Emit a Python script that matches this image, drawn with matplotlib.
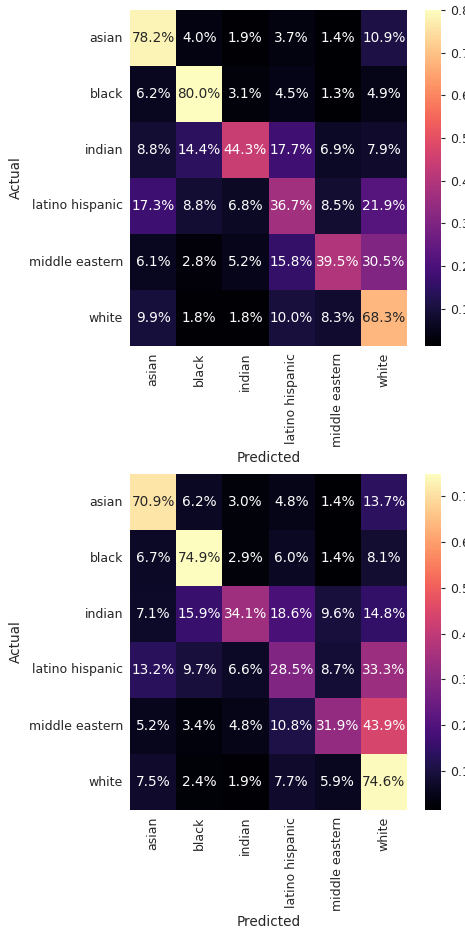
import numpy as np
import matplotlib
matplotlib.use("Agg")
import matplotlib.pyplot as plt
import seaborn as sns

labels = ["asian", "black", "indian", "latino hispanic", "middle eastern", "white"]

# valeurs normalisées par ligne (modèle 1)
cm_top = np.array([
    [0.782, 0.040, 0.019, 0.037, 0.014, 0.109],
    [0.062, 0.800, 0.031, 0.045, 0.013, 0.049],
    [0.088, 0.144, 0.443, 0.177, 0.069, 0.079],
    [0.173, 0.088, 0.068, 0.367, 0.085, 0.219],
    [0.061, 0.028, 0.052, 0.158, 0.395, 0.305],
    [0.099, 0.018, 0.018, 0.100, 0.083, 0.683],
])

# modèle 2
cm_bottom = np.array([
    [0.709, 0.062, 0.030, 0.048, 0.014, 0.137],
    [0.067, 0.749, 0.029, 0.060, 0.014, 0.081],
    [0.071, 0.159, 0.341, 0.186, 0.096, 0.148],
    [0.132, 0.097, 0.066, 0.285, 0.087, 0.333],
    [0.052, 0.034, 0.048, 0.108, 0.319, 0.439],
    [0.075, 0.024, 0.019, 0.077, 0.059, 0.746],
])

sns.set_style("white")
plt.rcParams["font.family"] = ["DejaVu Sans"]
plt.rcParams["font.size"] = 9.8
plt.rcParams["text.color"] = "#262626"
plt.rcParams["axes.labelcolor"] = "#262626"
plt.rcParams["xtick.color"] = "#262626"
plt.rcParams["ytick.color"] = "#262626"

W, H = 465, 931
fig = plt.figure(figsize=(W / 100, H / 100), dpi=100)

def panneau(cm, top_px):
    ax = fig.add_axes([130 / W, (H - top_px - 336) / H, 277 / W, 336 / H])
    cax = fig.add_axes([425 / W, (H - top_px - 336) / H, 16 / W, 336 / H])
    sns.heatmap(cm, annot=True, fmt=".1%", cmap="magma", ax=ax, cbar_ax=cax,
                xticklabels=labels, yticklabels=labels, annot_kws={"fontsize": 9.8})
    ax.set_xlabel("Predicted", fontsize=9.8, labelpad=3)
    ax.set_ylabel("Actual", fontsize=9.8)
    ax.tick_params(length=0, labelsize=9, pad=5)
    plt.setp(ax.get_xticklabels(), rotation=90)
    plt.setp(ax.get_yticklabels(), rotation=0)
    cax.tick_params(length=3, labelsize=9, width=0.8)
    return ax

panneau(cm_top, 10)
panneau(cm_bottom, 474)

fig.savefig("out.png", dpi=100)
